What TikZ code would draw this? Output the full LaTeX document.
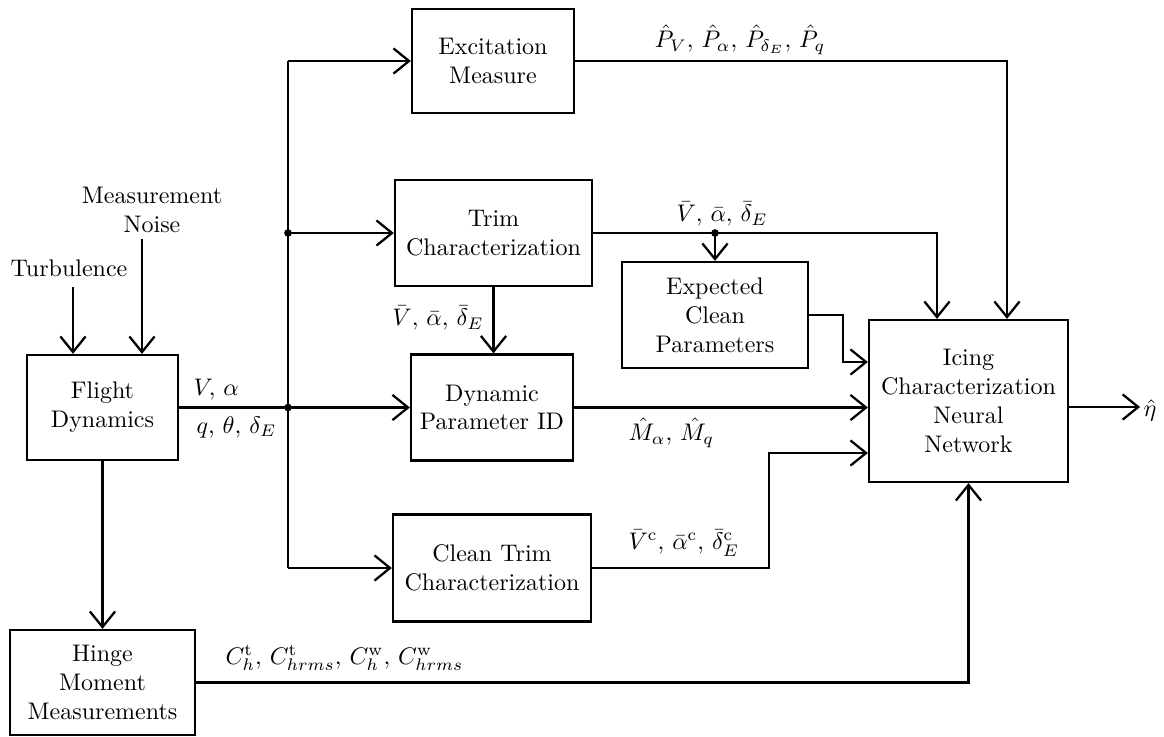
\documentclass[tikz,border=0pt]{standalone}
\usetikzlibrary{arrows.meta}
\begin{document}
\begin{tikzpicture}[x=0.4167pt,y=-0.4167pt,
  line width=0.95pt,
  blk/.style 2 args={draw, align=center, inner sep=0pt, minimum width=#1*0.4167pt, minimum height=#2*0.4167pt},
  arr/.style={-{Straight Barb[length=6.5pt,width=10.5pt,line width=0.95pt]}},
  lbl/.style={inner sep=1pt},
  jdot/.style={circle, fill, inner sep=0pt, minimum size=3.2pt}]
\useasboundingbox (0,0) rectangle (1164,736);
% blocks
\node[blk={151}{105}] (FD) at (102.5,407.5) {Flight\\Dynamics};
\node[blk={185}{105}] (HM) at (102.5,682.5) {Hinge\\Moment\\Measurements};
\node[blk={162}{104}] (EX) at (493,61) {Excitation\\Measure};
\node[blk={197}{106}] (TR) at (493.5,233) {Trim\\Characterization};
\node[blk={162}{106}] (DP) at (492,407.5) {Dynamic\\Parameter ID};
\node[blk={198}{107}] (CT) at (492,568) {Clean Trim\\Characterization};
\node[blk={186}{106}] (EC) at (715,315) {Expected\\Clean\\Parameters};
\node[blk={199}{162}] (IC) at (968.5,401) {Icing\\Characterization\\Neural\\Network};
% external inputs
\node[lbl] (turb) at (69,268) {Turbulence};
\node[lbl, align=center] (noise) at (152,210) {Measurement\\Noise};
\coordinate (t1) at (73,287);
\coordinate (n1) at (142,239);
\draw[arr] (t1) -- (t1 |- FD.north);
\draw[arr] (n1) -- (n1 |- FD.north);
% output
\node[lbl] (eta) at (1150,410) {$\hat\eta$};
\coordinate (o1) at (IC.east |- 0,407);
\draw[arr] (o1) -- (o1 -| eta.west);
% bus
\coordinate (bt) at (288,61);
\coordinate (j1) at (288,233);
\coordinate (j2) at (288,407.5);
\coordinate (bb) at (288,568);
\draw (bt) -- (bb);
\draw (FD.east) -- (j2);
\draw[arr] (j2) -- (DP.west);
\draw[arr] (bt) -- (EX.west);
\draw[arr] (j1) -- (TR.west);
\draw[arr] (bb) -- (CT.west);
\node[jdot] at (j1) {};
\node[jdot] at (j2) {};
\node[lbl, anchor=south west] at (190,404) {$V,\,\alpha$};
\node[lbl, anchor=north west] at (193,413) {$q,\,\theta,\,\delta_E$};
% FD -> Hinge
\draw[arr] (FD.south) -- (HM.north);
% Trim -> Dyn
\draw[arr] (TR.south) -- (TR.south |- DP.north);
\node[lbl, anchor=east] at (487,318) {$\bar V,\,\bar\alpha,\,\bar\delta_E$};
% Excitation -> Icing
\coordinate (xe) at (1007,0);
\draw[arr] (EX.east) -| (xe |- IC.north);
\node[lbl, anchor=south] at (740,58) {$\hat P_V,\,\hat P_\alpha,\,\hat P_{\delta_E},\,\hat P_q$};
% Trim -> Icing
\coordinate (xt) at (937,0);
\draw[arr] (TR.east) -| (xt |- IC.north);
\node[lbl, anchor=south] at (722,230) {$\bar V,\,\bar\alpha,\,\bar\delta_E$};
\coordinate (j3) at (EC.north |- TR.east);
\draw[arr] (j3) -- (EC.north);
\node[jdot] at (j3) {};
% Expected -> Icing
\coordinate (xc) at (843,0);
\coordinate (in1) at (IC.west |- 0,362);
\draw[arr] (EC.east) -- (xc |- EC.east) -- (xc |- in1) -- (in1);
% Dyn -> Icing
\draw[arr] (DP.east) -- (DP.east -| IC.west);
\node[lbl, anchor=west] at (625,433) {$\hat M_\alpha,\,\hat M_q$};
% Clean -> Icing
\coordinate (xk) at (769,0);
\coordinate (in3) at (IC.west |- 0,453);
\draw[arr] (CT.east) -- (xk |- CT.east) -- (xk |- in3) -- (in3);
\node[lbl, anchor=west] at (625,543) {$\bar V^{\mathrm{c}},\,\bar\alpha^{\mathrm{c}},\,\bar\delta_E^{\mathrm{c}}$};
% Hinge -> Icing
\draw[arr] (HM.east) -| (IC.south);
\node[lbl, anchor=west] at (222,658) {$C_h^{\mathrm{t}},\,C_{hrms}^{\mathrm{t}},\,C_h^{\mathrm{w}},\,C_{hrms}^{\mathrm{w}}$};
\end{tikzpicture}
\end{document}
